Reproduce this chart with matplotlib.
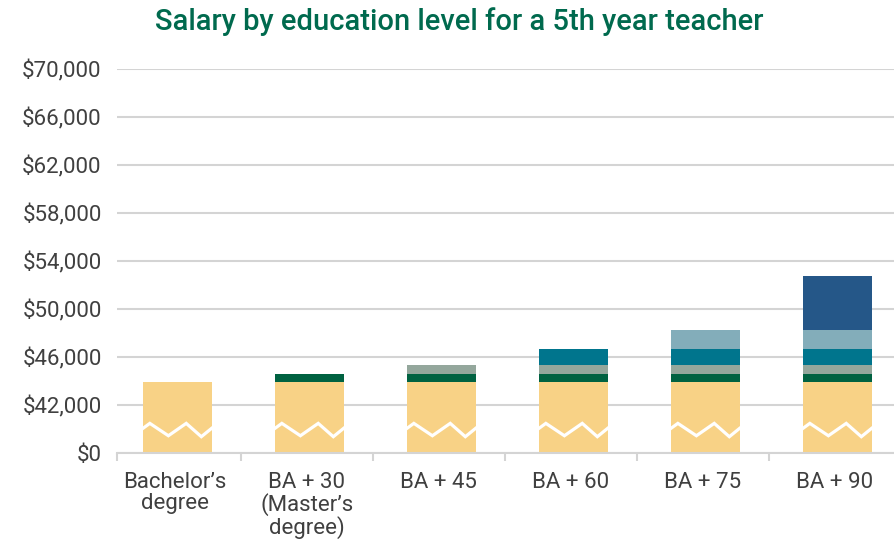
import matplotlib
import numpy as np

matplotlib.use('Agg')
import matplotlib.pyplot as plt
import matplotlib.ticker as mticker

# ── palette ──────────────────────────────────────────────────────────────────
_YELLOW = '#f8d286'
_STEP_COLORS = ['#006241', '#94a79c', '#00758d', '#83adba', '#255788']
_TITLE = '#006a4e'
_TEXT = '#404040'
_GRID = '#d4d4d4'

plt.rcParams['font.family'] = ['Roboto', 'DejaVu Sans']

# ── data ─────────────────────────────────────────────────────────────────────
categories = ['Bachelor’s\ndegree', 'BA + 30\n(Master’s\ndegree)', 'BA + 45',
              'BA + 60', 'BA + 75', 'BA + 90']
base_salary = 43900
step_raise = [650, 750, 1400, 1600, 4500]  # added by BA+30 … BA+90
y_ticks = [0, 42000, 46000, 50000, 54000, 58000, 62000, 66000, 70000]

# ── broken y scale: $0 → $42,000 squeezed into one tick step ────────────────
_BREAK = 42000
_STEP = 4000


def _fwd(v):
    v = np.asarray(v, dtype=float)
    return np.where(v < _BREAK, v / _BREAK, 1 + (v - _BREAK) / _STEP)


def _inv(p):
    p = np.asarray(p, dtype=float)
    return np.where(p < 1, p * _BREAK, _BREAK + (p - 1) * _STEP)


fig = plt.figure(figsize=(8.95, 5.42), dpi=100)
ax = fig.add_axes([0.1307, 0.1642, 0.8693, 0.7079])
ax.set_yscale('function', functions=(_fwd, _inv))

x = np.arange(len(categories))
width = 0.52
ax.bar(x + 0.02, base_salary, width=width, color=_YELLOW, zorder=2)
bottom = base_salary
for j, (inc, col) in enumerate(zip(step_raise, _STEP_COLORS)):
    ax.bar(x[j + 1:] + 0.02, inc, bottom=bottom, width=width, color=col, zorder=2)
    bottom += inc

# zigzag break marks on the base bars (shape is decoration, in bar fractions)
zz_fx = np.array([0.0, 0.10, 0.37, 0.63, 0.85, 1.0])
zz_y = np.array([21600, 25960, 15120, 25960, 14280, 21600])
for xi in x:
    ax.plot(xi + 0.02 - width / 2 + zz_fx * width, zz_y, color='white', lw=2.3,
            solid_joinstyle='miter', zorder=3)

ax.set_ylim(0, 70000)
ax.set_yticks(y_ticks)
ax.yaxis.set_major_formatter(mticker.FuncFormatter(lambda v, _: f'${v:,.0f}'))
ax.yaxis.grid(True, color=_GRID, lw=1.5)
ax.set_axisbelow(True)
ax.tick_params(axis='y', length=0, pad=11, labelsize=16, labelcolor=_TEXT)

ax.set_xlim(-0.437, 5.457)
ax.set_xticks(x)
ax.set_xticklabels(categories, linespacing=1.0)
ax.set_xticks(np.arange(-0.5, 5.0, 1.0)[1:].tolist() + [-0.437], minor=True)
ax.tick_params(axis='x', which='major', length=0, pad=14, labelsize=16,
               labelcolor=_TEXT)
ax.tick_params(axis='x', which='minor', length=6, width=1.5, color=_GRID)

for side in ['top', 'right', 'left']:
    ax.spines[side].set_visible(False)
ax.spines['bottom'].set_color(_GRID)
ax.spines['bottom'].set_linewidth(1.5)

fig.text(0.513, 0.96, 'Salary by education level for a 5th year teacher',
         ha='center', va='center', fontsize=21, fontweight='medium', color=_TITLE)

fig.savefig('out.png', dpi=100)
